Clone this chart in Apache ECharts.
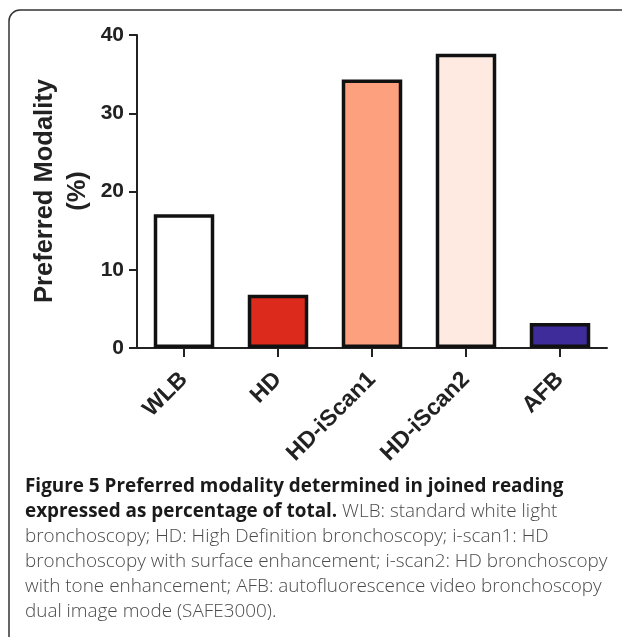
<!DOCTYPE html>
<html>
<head>
<meta charset="utf-8">
<script src="https://cdn.jsdelivr.net/npm/echarts@6/dist/echarts.min.js"></script>
<style>
html,body{margin:0;padding:0;background:#fff;}
#chart{width:622px;height:637px;}
</style>
</head>
<body>
<div id="chart"></div>
<script>
var categories = ['WLB', 'HD', 'HD-iScan1', 'HD-iScan2', 'AFB'];
var values = [17.1, 6.8, 34.3, 37.6, 3.2];
var barColors = ['#FFFFFF', '#DC2A1C', '#FCA07E', '#FEEAE0', '#3D2C9A'];
var yMin = 0, yMax = 40, yInterval = 10;
var yTitle = 'Preferred Modality\n(%)';
var captionLines = [
  { bold: 'Figure 5 Preferred modality determined in joined reading', normal: '' },
  { bold: 'expressed as percentage of total.', normal: ' WLB: standard white light' },
  { bold: '', normal: 'bronchoscopy; HD: High Definition bronchoscopy; i-scan1: HD' },
  { bold: '', normal: 'bronchoscopy with surface enhancement; i-scan2: HD bronchoscopy' },
  { bold: '', normal: 'with tone enhancement; AFB: autofluorescence video bronchoscopy' },
  { bold: '', normal: 'dual image mode (SAFE3000).' }
];

var chart = echarts.init(document.getElementById('chart'), null, { renderer: 'canvas' });

var graphics = [
  {
    type: 'rect',
    shape: { x: 9, y: 10, width: 660, height: 680, r: 11 },
    style: { fill: 'none', stroke: '#333', lineWidth: 1.5 },
    z: 0
  },
  {
    type: 'text',
    x: 61, y: 191,
    rotation: Math.PI / 2,
    style: {
      text: yTitle,
      font: 'bold 25.5px "Liberation Sans", Arial, sans-serif',
      fill: '#222',
      align: 'center',
      verticalAlign: 'middle',
      lineHeight: 33
    }
  }
];

var baseY = 493;
var lineGap = 25;
captionLines.forEach(function (ln, i) {
  var txt = '';
  if (ln.bold) txt += '{b|' + ln.bold + '}';
  if (ln.normal) txt += '{r|' + ln.normal + '}';
  graphics.push({
    type: 'text',
    x: 25, y: baseY + i * lineGap + 6.5,
    style: {
      text: txt,
      align: 'left',
      verticalAlign: 'bottom',
      rich: {
        b: { fontFamily: '"Open Sans", sans-serif', fontWeight: 'bold', fontSize: 18.9, fill: '#1a1a1a', lineHeight: 25 },
        r: { fontFamily: '"Open Sans", sans-serif', fontWeight: 300, fontSize: 18.9, fill: '#4a4a4a', lineHeight: 25 }
      }
    }
  });
});

var option = {
  animation: false,
  backgroundColor: '#fff',
  grid: { left: 137, right: 15, top: 35, bottom: 289, containLabel: false },
  xAxis: {
    type: 'category',
    data: categories,
    boundaryGap: true,
    axisLine: { show: true, lineStyle: { color: '#222', width: 2 } },
    axisTick: { show: true, alignWithLabel: true, length: 9, lineStyle: { color: '#222', width: 2 } },
    axisLabel: {
      rotate: 45,
      margin: 28,
      interval: 0,
      fontFamily: '"Liberation Sans", Arial, sans-serif',
      fontWeight: 'bold',
      fontSize: 23,
      color: '#222'
    },
    splitLine: { show: false }
  },
  yAxis: {
    type: 'value',
    min: yMin, max: yMax, interval: yInterval,
    axisLine: { show: true, lineStyle: { color: '#222', width: 2 } },
    axisTick: { show: true, length: 8, lineStyle: { color: '#222', width: 2 } },
    axisLabel: {
      margin: 13,
      fontFamily: '"Liberation Sans", Arial, sans-serif',
      fontWeight: 'bold',
      fontSize: 21,
      color: '#222'
    },
    splitLine: { show: false }
  },
  series: [{
    type: 'bar',
    barWidth: 60.5,
    data: values.map(function (v, i) {
      return { value: v, itemStyle: { color: barColors[i] } };
    }),
    itemStyle: { borderColor: '#111', borderWidth: 3.5 },
    z: 3
  }],
  graphic: graphics
};
chart.setOption(option);
</script>
</body>
</html>
